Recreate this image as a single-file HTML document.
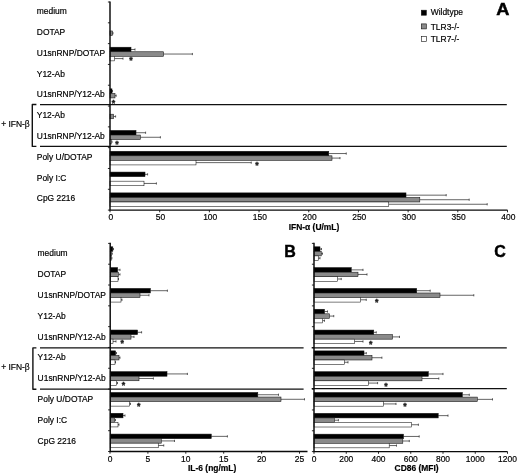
<!DOCTYPE html>
<html><head><meta charset="utf-8"><title>Figure</title>
<style>html,body{margin:0;padding:0;background:#fff}svg{display:block}text{stroke:#000;stroke-width:.18px}</style>
</head><body>
<svg width="520" height="474" viewBox="0 0 520 474" font-family="'Liberation Sans', sans-serif" font-size="8.45" fill="#000">
<rect width="520" height="474" fill="#fff"/>
<path d="M112.6 33.23H113M113 32.13V34.34" stroke="#222" stroke-width="0.7" fill="none"/>
<rect x="110" y="30.96" width="2.6" height="4.55" fill="#8a8a8a" stroke="#111" stroke-width="0.55"/>
<path d="M131 49.49H135M135 48.39V50.59" stroke="#222" stroke-width="0.7" fill="none"/>
<rect x="110" y="47.22" width="21" height="4.55" fill="#000" stroke="#111" stroke-width="0.55"/>
<path d="M163.6 54.04H192.4M192.4 52.94V55.14" stroke="#222" stroke-width="0.7" fill="none"/>
<rect x="110" y="51.77" width="53.6" height="4.55" fill="#8a8a8a" stroke="#111" stroke-width="0.55"/>
<path d="M114.4 58.59H123M123 57.49V59.7" stroke="#222" stroke-width="0.7" fill="none"/>
<rect x="110" y="56.32" width="4.4" height="4.55" fill="#fff" stroke="#111" stroke-width="0.55"/>
<text x="130.9" y="63.3" font-size="8.8" font-weight="bold" text-anchor="middle" fill="#111" style="stroke-width:.35px;stroke:#222">*</text>
<path d="M112 91.11H112.5M112.5 90.02V92.21" stroke="#222" stroke-width="0.7" fill="none"/>
<rect x="110" y="88.84" width="2" height="4.55" fill="#000" stroke="#111" stroke-width="0.55"/>
<path d="M115 95.66H116.2M116.2 94.56V96.76" stroke="#222" stroke-width="0.7" fill="none"/>
<rect x="110" y="93.39" width="5" height="4.55" fill="#8a8a8a" stroke="#111" stroke-width="0.55"/>
<text x="113.5" y="105.7" font-size="8.8" font-weight="bold" text-anchor="middle" fill="#111" style="stroke-width:.35px;stroke:#222">*</text>
<path d="M113.6 116.47H115.6M115.6 115.38V117.57" stroke="#222" stroke-width="0.7" fill="none"/>
<rect x="110" y="114.2" width="3.6" height="4.55" fill="#8a8a8a" stroke="#111" stroke-width="0.55"/>
<path d="M136 132.73H145.6M145.6 131.63V133.83" stroke="#222" stroke-width="0.7" fill="none"/>
<rect x="110" y="130.46" width="26" height="4.55" fill="#000" stroke="#111" stroke-width="0.55"/>
<path d="M140.4 137.28H160.4M160.4 136.19V138.38" stroke="#222" stroke-width="0.7" fill="none"/>
<rect x="110" y="135.01" width="30.4" height="4.55" fill="#8a8a8a" stroke="#111" stroke-width="0.55"/>
<path d="M111.4 141.83H112M112 140.73V142.93" stroke="#222" stroke-width="0.7" fill="none"/>
<rect x="110" y="139.56" width="1.4" height="4.55" fill="#fff" stroke="#111" stroke-width="0.55"/>
<text x="116.9" y="146.7" font-size="8.8" font-weight="bold" text-anchor="middle" fill="#111" style="stroke-width:.35px;stroke:#222">*</text>
<path d="M328.75 153.54H346.25M346.25 152.44V154.64" stroke="#222" stroke-width="0.7" fill="none"/>
<rect x="110" y="151.27" width="218.75" height="4.55" fill="#000" stroke="#111" stroke-width="0.55"/>
<path d="M332 158.09H340M340 157V159.19" stroke="#222" stroke-width="0.7" fill="none"/>
<rect x="110" y="155.82" width="222" height="4.55" fill="#8a8a8a" stroke="#111" stroke-width="0.55"/>
<path d="M196 162.64H251.25M251.25 161.54V163.74" stroke="#222" stroke-width="0.7" fill="none"/>
<rect x="110" y="160.37" width="86" height="4.55" fill="#fff" stroke="#111" stroke-width="0.55"/>
<text x="256.9" y="168.05" font-size="8.8" font-weight="bold" text-anchor="middle" fill="#111" style="stroke-width:.35px;stroke:#222">*</text>
<path d="M145 174.35H147.6M147.6 173.25V175.45" stroke="#222" stroke-width="0.7" fill="none"/>
<rect x="110" y="172.08" width="35" height="4.55" fill="#000" stroke="#111" stroke-width="0.55"/>
<path d="M144 183.45H156.4M156.4 182.35V184.55" stroke="#222" stroke-width="0.7" fill="none"/>
<rect x="110" y="181.18" width="34" height="4.55" fill="#fff" stroke="#111" stroke-width="0.55"/>
<path d="M406 195.16H446.2M446.2 194.06V196.26" stroke="#222" stroke-width="0.7" fill="none"/>
<rect x="110" y="192.89" width="296" height="4.55" fill="#000" stroke="#111" stroke-width="0.55"/>
<path d="M419.8 199.72H469.2M469.2 198.62V200.81" stroke="#222" stroke-width="0.7" fill="none"/>
<rect x="110" y="197.44" width="309.8" height="4.55" fill="#8a8a8a" stroke="#111" stroke-width="0.55"/>
<path d="M388.75 204.26H487.2M487.2 203.16V205.36" stroke="#222" stroke-width="0.7" fill="none"/>
<rect x="110" y="201.99" width="278.75" height="4.55" fill="#fff" stroke="#111" stroke-width="0.55"/>
<path d="M40 104.5H506.8" stroke="#111" stroke-width="1.25"/>
<path d="M40 146.4H506.8" stroke="#111" stroke-width="1.25"/>
<path d="M110 1.4V210.1H507.5" stroke="#0a0a0a" stroke-width="1.45" fill="none"/>
<path d="M107.9 2H110M107.9 22.81H110M107.9 43.62H110M107.9 64.43H110M107.9 85.24H110M107.9 106.05H110M107.9 126.86H110M107.9 147.67H110M107.9 168.48H110M107.9 189.29H110M107.9 210.1H110" stroke="#111" stroke-width="0.9"/>
<path d="M110 210.1V212.3M159.69 210.1V212.3M209.38 210.1V212.3M259.06 210.1V212.3M308.75 210.1V212.3M358.44 210.1V212.3M408.12 210.1V212.3M457.81 210.1V212.3M507.5 210.1V212.3" stroke="#111" stroke-width="0.9"/>
<text x="110.8" y="220.2" text-anchor="middle">0</text>
<text x="160.49" y="220.2" text-anchor="middle">50</text>
<text x="210.18" y="220.2" text-anchor="middle">100</text>
<text x="259.86" y="220.2" text-anchor="middle">150</text>
<text x="309.55" y="220.2" text-anchor="middle">200</text>
<text x="359.24" y="220.2" text-anchor="middle">250</text>
<text x="408.93" y="220.2" text-anchor="middle">300</text>
<text x="458.61" y="220.2" text-anchor="middle">350</text>
<text x="508.3" y="220.2" text-anchor="middle">400</text>
<text x="288.7" y="230.2" font-weight="bold">IFN-α (U/mL)</text>
<path d="M112.8 249.08H113.5M113.5 247.98V250.18" stroke="#222" stroke-width="0.7" fill="none"/>
<rect x="110.2" y="246.8" width="2.6" height="4.55" fill="#000" stroke="#111" stroke-width="0.55"/>
<path d="M111.6 253.63H112.3M112.3 252.53V254.73" stroke="#222" stroke-width="0.7" fill="none"/>
<rect x="110.2" y="251.35" width="1.4" height="4.55" fill="#8a8a8a" stroke="#111" stroke-width="0.55"/>
<path d="M111.3 258.18H111.9M111.9 257.07V259.28" stroke="#222" stroke-width="0.7" fill="none"/>
<rect x="110.2" y="255.9" width="1.1" height="4.55" fill="#fff" stroke="#111" stroke-width="0.55"/>
<path d="M117.6 269.88H120M120 268.78V270.98" stroke="#222" stroke-width="0.7" fill="none"/>
<rect x="110.2" y="267.61" width="7.4" height="4.55" fill="#000" stroke="#111" stroke-width="0.55"/>
<path d="M118.4 274.43H120M120 273.33V275.53" stroke="#222" stroke-width="0.7" fill="none"/>
<rect x="110.2" y="272.16" width="8.2" height="4.55" fill="#8a8a8a" stroke="#111" stroke-width="0.55"/>
<path d="M118 278.98H118.5M118.5 277.88V280.08" stroke="#222" stroke-width="0.7" fill="none"/>
<rect x="110.2" y="276.71" width="7.8" height="4.55" fill="#fff" stroke="#111" stroke-width="0.55"/>
<path d="M150.4 290.69H167.4M167.4 289.59V291.79" stroke="#222" stroke-width="0.7" fill="none"/>
<rect x="110.2" y="288.42" width="40.2" height="4.55" fill="#000" stroke="#111" stroke-width="0.55"/>
<path d="M140 295.24H149M149 294.14V296.34" stroke="#222" stroke-width="0.7" fill="none"/>
<rect x="110.2" y="292.97" width="29.8" height="4.55" fill="#8a8a8a" stroke="#111" stroke-width="0.55"/>
<path d="M121 299.79H122M122 298.69V300.89" stroke="#222" stroke-width="0.7" fill="none"/>
<rect x="110.2" y="297.52" width="10.8" height="4.55" fill="#fff" stroke="#111" stroke-width="0.55"/>
<path d="M137.6 332.31H141.6M141.6 331.21V333.41" stroke="#222" stroke-width="0.7" fill="none"/>
<rect x="110.2" y="330.04" width="27.4" height="4.55" fill="#000" stroke="#111" stroke-width="0.55"/>
<path d="M131 336.86H134M134 335.76V337.96" stroke="#222" stroke-width="0.7" fill="none"/>
<rect x="110.2" y="334.59" width="20.8" height="4.55" fill="#8a8a8a" stroke="#111" stroke-width="0.55"/>
<path d="M113 341.41H116M116 340.31V342.51" stroke="#222" stroke-width="0.7" fill="none"/>
<rect x="110.2" y="339.14" width="2.8" height="4.55" fill="#fff" stroke="#111" stroke-width="0.55"/>
<text x="122.3" y="346.3" font-size="8.8" font-weight="bold" text-anchor="middle" fill="#111" style="stroke-width:.35px;stroke:#222">*</text>
<path d="M115.6 353.12H116.5M116.5 352.02V354.22" stroke="#222" stroke-width="0.7" fill="none"/>
<rect x="110.2" y="350.85" width="5.4" height="4.55" fill="#000" stroke="#111" stroke-width="0.55"/>
<path d="M119 357.67H120M120 356.57V358.77" stroke="#222" stroke-width="0.7" fill="none"/>
<rect x="110.2" y="355.4" width="8.8" height="4.55" fill="#8a8a8a" stroke="#111" stroke-width="0.55"/>
<path d="M115 362.22H115.5M115.5 361.12V363.32" stroke="#222" stroke-width="0.7" fill="none"/>
<rect x="110.2" y="359.95" width="4.8" height="4.55" fill="#fff" stroke="#111" stroke-width="0.55"/>
<path d="M167 373.93H187.4M187.4 372.83V375.03" stroke="#222" stroke-width="0.7" fill="none"/>
<rect x="110.2" y="371.66" width="56.8" height="4.55" fill="#000" stroke="#111" stroke-width="0.55"/>
<path d="M139 378.48H153.4M153.4 377.38V379.58" stroke="#222" stroke-width="0.7" fill="none"/>
<rect x="110.2" y="376.21" width="28.8" height="4.55" fill="#8a8a8a" stroke="#111" stroke-width="0.55"/>
<path d="M116.4 383.03H117.5M117.5 381.93V384.13" stroke="#222" stroke-width="0.7" fill="none"/>
<rect x="110.2" y="380.76" width="6.2" height="4.55" fill="#fff" stroke="#111" stroke-width="0.55"/>
<text x="123.5" y="388.3" font-size="8.8" font-weight="bold" text-anchor="middle" fill="#111" style="stroke-width:.35px;stroke:#222">*</text>
<path d="M257.8 394.74H278.5M278.5 393.64V395.84" stroke="#222" stroke-width="0.7" fill="none"/>
<rect x="110.2" y="392.47" width="147.6" height="4.55" fill="#000" stroke="#111" stroke-width="0.55"/>
<path d="M281 399.29H304.5M304.5 398.19V400.39" stroke="#222" stroke-width="0.7" fill="none"/>
<rect x="110.2" y="397.02" width="170.8" height="4.55" fill="#8a8a8a" stroke="#111" stroke-width="0.55"/>
<path d="M129.3 403.84H130.5M130.5 402.74V404.94" stroke="#222" stroke-width="0.7" fill="none"/>
<rect x="110.2" y="401.57" width="19.1" height="4.55" fill="#fff" stroke="#111" stroke-width="0.55"/>
<text x="138.6" y="409.3" font-size="8.8" font-weight="bold" text-anchor="middle" fill="#111" style="stroke-width:.35px;stroke:#222">*</text>
<path d="M123 415.55H125M125 414.45V416.65" stroke="#222" stroke-width="0.7" fill="none"/>
<rect x="110.2" y="413.28" width="12.8" height="4.55" fill="#000" stroke="#111" stroke-width="0.55"/>
<path d="M114.5 420.1H115.5M115.5 419V421.2" stroke="#222" stroke-width="0.7" fill="none"/>
<rect x="110.2" y="417.83" width="4.3" height="4.55" fill="#8a8a8a" stroke="#111" stroke-width="0.55"/>
<path d="M118 424.65H119M119 423.55V425.75" stroke="#222" stroke-width="0.7" fill="none"/>
<rect x="110.2" y="422.38" width="7.8" height="4.55" fill="#fff" stroke="#111" stroke-width="0.55"/>
<path d="M211.25 436.36H227.4M227.4 435.26V437.46" stroke="#222" stroke-width="0.7" fill="none"/>
<rect x="110.2" y="434.09" width="101.05" height="4.55" fill="#000" stroke="#111" stroke-width="0.55"/>
<path d="M161.25 440.91H174.5M174.5 439.81V442.01" stroke="#222" stroke-width="0.7" fill="none"/>
<rect x="110.2" y="438.64" width="51.05" height="4.55" fill="#8a8a8a" stroke="#111" stroke-width="0.55"/>
<path d="M158.25 445.46H163.75M163.75 444.36V446.56" stroke="#222" stroke-width="0.7" fill="none"/>
<rect x="110.2" y="443.19" width="48.05" height="4.55" fill="#fff" stroke="#111" stroke-width="0.55"/>
<path d="M40 347.9H303.6" stroke="#111" stroke-width="1.25"/>
<path d="M40 389.2H303.6" stroke="#111" stroke-width="1.25"/>
<path d="M110.2 242.8V451.5H307.5" stroke="#0a0a0a" stroke-width="1.45" fill="none"/>
<path d="M108.1 243.4H110.2M108.1 264.21H110.2M108.1 285.02H110.2M108.1 305.83H110.2M108.1 326.64H110.2M108.1 347.45H110.2M108.1 368.26H110.2M108.1 389.07H110.2M108.1 409.88H110.2M108.1 430.69H110.2M108.1 451.5H110.2" stroke="#111" stroke-width="0.9"/>
<path d="M110 451.5V453.7M147.9 451.5V453.7M185.8 451.5V453.7M223.7 451.5V453.7M261.6 451.5V453.7M299.5 451.5V453.7" stroke="#111" stroke-width="0.9"/>
<text x="110" y="462.2" text-anchor="middle">0</text>
<text x="147.9" y="462.2" text-anchor="middle">5</text>
<text x="185.8" y="462.2" text-anchor="middle">10</text>
<text x="223.7" y="462.2" text-anchor="middle">15</text>
<text x="261.6" y="462.2" text-anchor="middle">20</text>
<text x="299.5" y="462.2" text-anchor="middle">25</text>
<text x="188" y="470.8" font-weight="bold">IL-6 (ng/mL)</text>
<path d="M320 249.08H321.5M321.5 247.98V250.18" stroke="#222" stroke-width="0.7" fill="none"/>
<rect x="314" y="246.8" width="6" height="4.55" fill="#000" stroke="#111" stroke-width="0.55"/>
<path d="M321.25 253.63H322.5M322.5 252.53V254.73" stroke="#222" stroke-width="0.7" fill="none"/>
<rect x="314" y="251.35" width="7.25" height="4.55" fill="#8a8a8a" stroke="#111" stroke-width="0.55"/>
<path d="M318.25 258.18H320M320 257.07V259.28" stroke="#222" stroke-width="0.7" fill="none"/>
<rect x="314" y="255.9" width="4.25" height="4.55" fill="#fff" stroke="#111" stroke-width="0.55"/>
<path d="M351.25 269.89H363M363 268.79V271" stroke="#222" stroke-width="0.7" fill="none"/>
<rect x="314" y="267.62" width="37.25" height="4.55" fill="#000" stroke="#111" stroke-width="0.55"/>
<path d="M358 274.44H367M367 273.34V275.55" stroke="#222" stroke-width="0.7" fill="none"/>
<rect x="314" y="272.17" width="44" height="4.55" fill="#8a8a8a" stroke="#111" stroke-width="0.55"/>
<path d="M337.5 279H341.25M341.25 277.89V280.1" stroke="#222" stroke-width="0.7" fill="none"/>
<rect x="314" y="276.72" width="23.5" height="4.55" fill="#fff" stroke="#111" stroke-width="0.55"/>
<path d="M416.7 290.71H430.2M430.2 289.61V291.81" stroke="#222" stroke-width="0.7" fill="none"/>
<rect x="314" y="288.44" width="102.7" height="4.55" fill="#000" stroke="#111" stroke-width="0.55"/>
<path d="M440 295.26H473.8M473.8 294.16V296.37" stroke="#222" stroke-width="0.7" fill="none"/>
<rect x="314" y="292.99" width="126" height="4.55" fill="#8a8a8a" stroke="#111" stroke-width="0.55"/>
<path d="M360.5 299.81H366.25M366.25 298.71V300.92" stroke="#222" stroke-width="0.7" fill="none"/>
<rect x="314" y="297.54" width="46.5" height="4.55" fill="#fff" stroke="#111" stroke-width="0.55"/>
<text x="376.65" y="304.8" font-size="8.8" font-weight="bold" text-anchor="middle" fill="#111" style="stroke-width:.35px;stroke:#222">*</text>
<path d="M324.5 311.53H327.5M327.5 310.43V312.63" stroke="#222" stroke-width="0.7" fill="none"/>
<rect x="314" y="309.26" width="10.5" height="4.55" fill="#000" stroke="#111" stroke-width="0.55"/>
<path d="M329.5 316.08H333.75M333.75 314.98V317.19" stroke="#222" stroke-width="0.7" fill="none"/>
<rect x="314" y="313.81" width="15.5" height="4.55" fill="#8a8a8a" stroke="#111" stroke-width="0.55"/>
<path d="M322.5 320.63H324.5M324.5 319.53V321.74" stroke="#222" stroke-width="0.7" fill="none"/>
<rect x="314" y="318.36" width="8.5" height="4.55" fill="#fff" stroke="#111" stroke-width="0.55"/>
<path d="M373.75 332.35H376.25M376.25 331.25V333.45" stroke="#222" stroke-width="0.7" fill="none"/>
<rect x="314" y="330.08" width="59.75" height="4.55" fill="#000" stroke="#111" stroke-width="0.55"/>
<path d="M392.5 336.9H399.5M399.5 335.8V338" stroke="#222" stroke-width="0.7" fill="none"/>
<rect x="314" y="334.63" width="78.5" height="4.55" fill="#8a8a8a" stroke="#111" stroke-width="0.55"/>
<path d="M354.5 341.45H363M363 340.35V342.56" stroke="#222" stroke-width="0.7" fill="none"/>
<rect x="314" y="339.18" width="40.5" height="4.55" fill="#fff" stroke="#111" stroke-width="0.55"/>
<text x="370.65" y="347.3" font-size="8.8" font-weight="bold" text-anchor="middle" fill="#111" style="stroke-width:.35px;stroke:#222">*</text>
<path d="M364 353.17H366.3M366.3 352.07V354.27" stroke="#222" stroke-width="0.7" fill="none"/>
<rect x="314" y="350.9" width="50" height="4.55" fill="#000" stroke="#111" stroke-width="0.55"/>
<path d="M372 357.72H381.9M381.9 356.62V358.82" stroke="#222" stroke-width="0.7" fill="none"/>
<rect x="314" y="355.45" width="58" height="4.55" fill="#8a8a8a" stroke="#111" stroke-width="0.55"/>
<path d="M344.3 362.27H348M348 361.17V363.38" stroke="#222" stroke-width="0.7" fill="none"/>
<rect x="314" y="360" width="30.3" height="4.55" fill="#fff" stroke="#111" stroke-width="0.55"/>
<path d="M428.3 373.99H443M443 372.89V375.09" stroke="#222" stroke-width="0.7" fill="none"/>
<rect x="314" y="371.72" width="114.3" height="4.55" fill="#000" stroke="#111" stroke-width="0.55"/>
<path d="M422 378.54H438.8M438.8 377.44V379.64" stroke="#222" stroke-width="0.7" fill="none"/>
<rect x="314" y="376.27" width="108" height="4.55" fill="#8a8a8a" stroke="#111" stroke-width="0.55"/>
<path d="M368.3 383.09H377.6M377.6 381.99V384.19" stroke="#222" stroke-width="0.7" fill="none"/>
<rect x="314" y="380.82" width="54.3" height="4.55" fill="#fff" stroke="#111" stroke-width="0.55"/>
<text x="385.9" y="388.7" font-size="8.8" font-weight="bold" text-anchor="middle" fill="#111" style="stroke-width:.35px;stroke:#222">*</text>
<path d="M462.3 394.81H469.3M469.3 393.71V395.91" stroke="#222" stroke-width="0.7" fill="none"/>
<rect x="314" y="392.54" width="148.3" height="4.55" fill="#000" stroke="#111" stroke-width="0.55"/>
<path d="M477.3 399.36H492.5M492.5 398.26V400.46" stroke="#222" stroke-width="0.7" fill="none"/>
<rect x="314" y="397.09" width="163.3" height="4.55" fill="#8a8a8a" stroke="#111" stroke-width="0.55"/>
<path d="M383.3 403.91H396M396 402.81V405.01" stroke="#222" stroke-width="0.7" fill="none"/>
<rect x="314" y="401.64" width="69.3" height="4.55" fill="#fff" stroke="#111" stroke-width="0.55"/>
<text x="404.9" y="409.3" font-size="8.8" font-weight="bold" text-anchor="middle" fill="#111" style="stroke-width:.35px;stroke:#222">*</text>
<path d="M438.2 415.63H448M448 414.53V416.74" stroke="#222" stroke-width="0.7" fill="none"/>
<rect x="314" y="413.36" width="124.2" height="4.55" fill="#000" stroke="#111" stroke-width="0.55"/>
<path d="M334.4 420.19H338.4M338.4 419.08V421.29" stroke="#222" stroke-width="0.7" fill="none"/>
<rect x="314" y="417.91" width="20.4" height="4.55" fill="#8a8a8a" stroke="#111" stroke-width="0.55"/>
<path d="M411.4 424.74H418.4M418.4 423.63V425.84" stroke="#222" stroke-width="0.7" fill="none"/>
<rect x="314" y="422.46" width="97.4" height="4.55" fill="#fff" stroke="#111" stroke-width="0.55"/>
<path d="M403.5 436.45H419.2M419.2 435.35V437.55" stroke="#222" stroke-width="0.7" fill="none"/>
<rect x="314" y="434.18" width="89.5" height="4.55" fill="#000" stroke="#111" stroke-width="0.55"/>
<path d="M402.8 441H409.3M409.3 439.9V442.1" stroke="#222" stroke-width="0.7" fill="none"/>
<rect x="314" y="438.73" width="88.8" height="4.55" fill="#8a8a8a" stroke="#111" stroke-width="0.55"/>
<path d="M389.2 445.55H396.5M396.5 444.45V446.65" stroke="#222" stroke-width="0.7" fill="none"/>
<rect x="314" y="443.28" width="75.2" height="4.55" fill="#fff" stroke="#111" stroke-width="0.55"/>
<path d="M311.7 347.8H506.8" stroke="#111" stroke-width="1.25"/>
<path d="M311.7 388.7H506.8" stroke="#111" stroke-width="1.25"/>
<path d="M314 242.8V451.6H507.5" stroke="#0a0a0a" stroke-width="1.45" fill="none"/>
<path d="M311.9 243.4H314M311.9 264.22H314M311.9 285.04H314M311.9 305.86H314M311.9 326.68H314M311.9 347.5H314M311.9 368.32H314M311.9 389.14H314M311.9 409.96H314M311.9 430.78H314M311.9 451.6H314" stroke="#111" stroke-width="0.9"/>
<path d="M314 451.6V453.8M346.25 451.6V453.8M378.5 451.6V453.8M410.75 451.6V453.8M443 451.6V453.8M475.25 451.6V453.8M507.5 451.6V453.8" stroke="#111" stroke-width="0.9"/>
<text x="314" y="462.2" text-anchor="middle">0</text>
<text x="346.25" y="462.2" text-anchor="middle">200</text>
<text x="378.5" y="462.2" text-anchor="middle">400</text>
<text x="410.75" y="462.2" text-anchor="middle">600</text>
<text x="443" y="462.2" text-anchor="middle">800</text>
<text x="475.25" y="462.2" text-anchor="middle">1000</text>
<text x="507.5" y="462.2" text-anchor="middle">1200</text>
<text x="394.6" y="470.8" font-weight="bold">CD86 (MFI)</text>
<text x="36.8" y="14.29">medium</text>
<text x="36.8" y="35.09">DOTAP</text>
<text x="36.8" y="55.87">U1snRNP/DOTAP</text>
<text x="36.8" y="76.67">Y12-Ab</text>
<text x="36.8" y="97.45">U1snRNP/Y12-Ab</text>
<text x="36.8" y="118.25">Y12-Ab</text>
<text x="36.8" y="139.03">U1snRNP/Y12-Ab</text>
<text x="36.8" y="159.82">Poly U/DOTAP</text>
<text x="36.8" y="180.62">Poly I:C</text>
<text x="36.8" y="201.41">CpG 2216</text>
<path d="M36.4 104.5H32.3V146.4H36.4" stroke="#111" stroke-width="1.4" stroke-linejoin="round" fill="none"/>
<text x="1.2" y="127.4">+ IFN-β</text>
<text x="37.6" y="256.31">medium</text>
<text x="37.6" y="277.12">DOTAP</text>
<text x="37.6" y="297.93">U1snRNP/DOTAP</text>
<text x="37.6" y="318.74">Y12-Ab</text>
<text x="37.6" y="339.55">U1snRNP/Y12-Ab</text>
<text x="37.6" y="360.36">Y12-Ab</text>
<text x="37.6" y="381.16">U1snRNP/Y12-Ab</text>
<text x="37.6" y="401.98">Poly U/DOTAP</text>
<text x="37.6" y="422.78">Poly I:C</text>
<text x="37.6" y="443.6">CpG 2216</text>
<path d="M36.4 347.9H32.9V389.2H36.4" stroke="#111" stroke-width="1.4" stroke-linejoin="round" fill="none"/>
<text x="1.2" y="369.5">+ IFN-β</text>
<rect x="421.3" y="10.2" width="5" height="5" fill="#000" stroke="#111" stroke-width="0.6"/>
<text x="430.7" y="15.3">Wildtype</text>
<rect x="421.3" y="23.9" width="5" height="5" fill="#8a8a8a" stroke="#111" stroke-width="0.6"/>
<text x="430.7" y="29.7">TLR3-/-</text>
<rect x="421.3" y="36.4" width="5" height="5" fill="#fff" stroke="#111" stroke-width="0.6"/>
<text x="430.7" y="41.9">TLR7-/-</text>
<text transform="translate(496.2 14.6) scale(1.14 1)" font-size="16" font-weight="bold" fill="#000" style="stroke-width:.45px">A</text>
<text transform="translate(284.3 256.8) scale(1.0 1)" font-size="16" font-weight="bold" fill="#000" style="stroke-width:.45px">B</text>
<text transform="translate(494.2 256.6) scale(1.0 1)" font-size="16" font-weight="bold" fill="#000" style="stroke-width:.45px">C</text>
</svg>
</body></html>
